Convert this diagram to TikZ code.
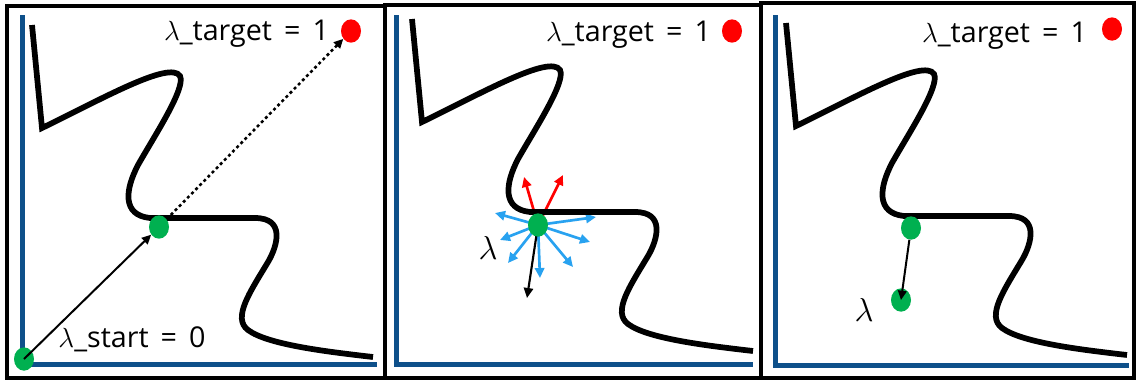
\documentclass[tikz,border=0pt]{standalone}
\usepackage{fontspec}
\setmainfont{Open Sans}
\usetikzlibrary{arrows.meta,shapes.geometric}
\pgfdeclarelayer{bg}
\pgfsetlayers{bg,main}
\definecolor{axisblue}{RGB}{14,80,138}
\definecolor{dotgreen}{RGB}{0,176,80}
\definecolor{arrowblue}{RGB}{40,162,240}
\newcommand\eqgap{\hspace{0.42em}}
\begin{document}
\begin{tikzpicture}[x=0.75pt,y=-0.75pt,
  frame/.style={draw=black,line width=3pt},
  axis/.style={draw=axisblue,line width=3.75pt},
  curve/.style={draw=black,line width=4.3pt,line join=miter,line cap=butt},
  gdot/.style={ellipse,fill=dotgreen,inner sep=0pt,minimum width=15pt,minimum height=17.5pt},
  rdot/.style={ellipse,fill=red,inner sep=0pt,minimum width=15pt,minimum height=17.5pt},
  lbl/.style={font=\fontsize{21.5}{24}\selectfont,anchor=base,inner sep=0pt},
  lam/.style={font=\fontsize{25}{26}\selectfont,inner sep=0pt},
  arr/.style={-{Triangle[length=7pt,width=6.5pt]},line width=1.5pt},
  ray/.style={-{Triangle[length=7.5pt,width=7pt]},line width=2pt},
  wall/.pic={\draw[curve] (32,25) -- (42,128)
     .. controls (100,100) and (170,60) .. (180,76)
     .. controls (186,88) and (155,135) .. (138,165)
     .. controls (125,190) and (122,215) .. (150,218)
     -- (255,218) .. controls (285,218) and (278,245) .. (268,262)
     .. controls (250,292) and (232,318) .. (248,330)
     .. controls (268,345) and (330,352) .. (373,357);}
]
\begin{pgfonlayer}{bg}
\fill[white] (0,0) rectangle (1139,380);
\end{pgfonlayer}
\useasboundingbox (0,0) rectangle (1139,380);
% frames
\draw[frame] (6.5,6) rectangle (384.5,378);
\draw[frame] (384.5,5) rectangle (760.5,378);
\draw[frame] (760.5,2.5) rectangle (1134,378);
% axes
\draw[axis] (22.5,15) |- (377,364.5);
\draw[axis] (396,15) |- (753,364.5);
\draw[axis] (775,15) |- (1129,365);
% curves
\pic at (0,0) {wall};
\pic at (380,-6) {wall};
\pic at (754,-2) {wall};

% ---------- panel 1
\node[rdot] (r1) at (351,31) {};
\node[lbl] (t1) at (246.5,40) {$\lambda$\_target\eqgap=\eqgap1};
\node[gdot] (s1) at (24,359) {};
\node[gdot] (m1) at (159,227) {};
\node[lbl] (st1) at (132,347) {$\lambda$\_start\eqgap=\eqgap0};
\draw[arr] (s1.center) -- (m1);
\draw[arr,dash pattern=on 2.2pt off 2.2pt,line width=1.9pt] (m1) -- (r1);

% ---------- panel 2
\node[rdot] (r2) at (732,31) {};
\node[lbl] (t2) at (628.5,41) {$\lambda$\_target\eqgap=\eqgap1};
\node[gdot] (m2) at (538,225) {};
\coordinate (rA) at (524,177);
\coordinate (rB) at (563,175);
\coordinate (b1) at (495,213);
\coordinate (b2) at (500,240);
\coordinate (b3) at (508,263);
\coordinate (b4) at (540,278);
\coordinate (b5) at (573,267);
\coordinate (b6) at (590,242);
\coordinate (b7) at (596,217);
\coordinate (k2) at (527,298);
\begin{pgfonlayer}{bg}
\draw[ray,red] (m2.center) -- (rA);
\draw[ray,red] (m2.center) -- (rB);
\foreach \p in {b1,b2,b3,b4,b5,b6,b7}
  \draw[ray,arrowblue] (m2.center) -- (\p);
\draw[ray,black,line width=1.6pt] (m2.center) -- (k2);
\end{pgfonlayer}
\node[lam] (l2) at (488,248) {$\lambda$};

% ---------- panel 3
\node[rdot] (r3) at (1112,29) {};
\node[lbl] (t3) at (1004.5,42) {$\lambda$\_target\eqgap=\eqgap1};
\node[gdot] (a3) at (911,228) {};
\node[gdot] (b3n) at (901,300) {};
\draw[arr] (a3) -- (b3n.center);
\node[lam] (l3) at (864,310) {$\lambda$};
\end{tikzpicture}
\end{document}
